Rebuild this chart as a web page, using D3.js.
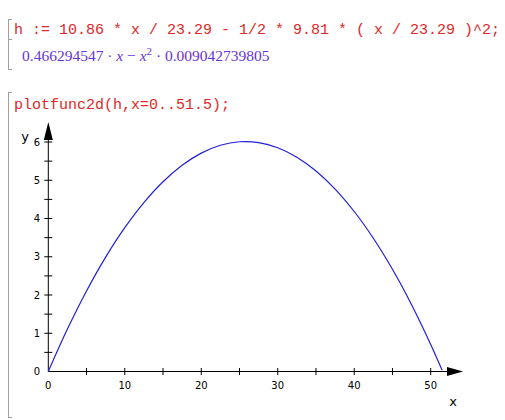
<!DOCTYPE html>
<html><head><meta charset="utf-8">
<script src="https://cdn.jsdelivr.net/npm/d3@7/dist/d3.min.js"></script>
<style>body{margin:0;background:#fff;}svg{display:block;}</style>
</head><body>
<script>
const inputLine1 = "h := 10.86 * x / 23.29 - 1/2 * 9.81 * ( x / 23.29 )^2;";
const inputLine2 = "plotfunc2d(h,x=0..51.5);";
const xs = [0,2.5,5,7.5,10,12.5,15,17.5,20,22.5,25,27.5,30,32.5,35,37.5,40,42.5,45,47.5,50,51.5];
const hs = [0,1.109,2.105,2.989,3.759,4.416,4.960,5.391,5.709,5.914,6.006,5.985,5.850,5.603,5.243,4.770,4.183,3.484,2.672,1.746,0.708,0.030];
const xTicks = [0,10,20,30,40,50];
const xMinor = [5,15,25,35,45];
const yTicks = [0,1,2,3,4,5,6];
const yMinor = [0.5,1.5,2.5,3.5,4.5,5.5];

const W=505,H=420;
const svg=d3.select("body").append("svg").attr("width",W).attr("height",H);
const gray="#a0a0a0", red="#e02828", purple="#6633dd", blue="#2020dd";

function bracket(y0,y1,mids){
  svg.append("line").attr("x1",8.5).attr("x2",8.5).attr("y1",y0).attr("y2",y1).attr("stroke",gray);
  [y0+0.5,y1-0.5].concat(mids).forEach(y=>svg.append("line").attr("x1",8).attr("x2",12).attr("y1",y).attr("y2",y).attr("stroke",gray));
}
bracket(19,70,[39.5]);
bracket(92,418,[]);

svg.append("text").attr("x",14).attr("y",34).attr("fill",red)
  .style("font-family","'Liberation Mono','Courier New',monospace").style("font-size","15px")
  .attr("xml:space","preserve").text(inputLine1);
svg.append("text").attr("x",14).attr("y",109).attr("fill",red)
  .style("font-family","'Liberation Mono','Courier New',monospace").style("font-size","15px")
  .text(inputLine2);

const out=svg.append("text").attr("x",22).attr("y",61).attr("fill",purple)
  .style("font-family","'Liberation Serif','Times New Roman',serif").style("font-size","15.5px");
out.append("tspan").text("0.466294547");
out.append("tspan").text(" · ");
out.append("tspan").style("font-style","italic").text("x");
out.append("tspan").text(" − ");
out.append("tspan").style("font-style","italic").text("x");
out.append("tspan").attr("dy",-6).style("font-size","11px").text("2");
out.append("tspan").attr("dy",6).text(" · 0.009042739805");

const x=d3.scaleLinear().domain([0,50]).range([48.3,430.7]);
const y=d3.scaleLinear().domain([0,6]).range([371.5,142]);

const axFont="'DejaVu Sans',Verdana,sans-serif";
svg.append("line").attr("x1",x(0)).attr("x2",448).attr("y1",y(0)).attr("y2",y(0)).attr("stroke","#000");
svg.append("path").attr("d",`M447,${y(0)-4.5}L463,${y(0)}L447,${y(0)+4.5}Z`).attr("fill","#000");
xTicks.concat(xMinor).forEach(v=>{ if(v===0) return;
  svg.append("line").attr("x1",x(v)).attr("x2",x(v)).attr("y1",y(0)-3.5).attr("y2",y(0)+3.5).attr("stroke","#000");});
xTicks.forEach(v=>svg.append("text").attr("x",x(v)).attr("y",389).attr("text-anchor","middle")
  .style("font-family",axFont).style("font-size","10px").text(v));
svg.append("text").attr("x",453).attr("y",406).attr("text-anchor","middle").style("font-family",axFont).style("font-size","13px").text("x");

svg.append("line").attr("x1",x(0)).attr("x2",x(0)).attr("y1",y(0)).attr("y2",138).attr("stroke","#000");
svg.append("path").attr("d",`M${x(0)-4.5},140L${x(0)},122L${x(0)+4.5},140Z`).attr("fill","#000");
yTicks.concat(yMinor).forEach(v=>{ if(v===0) return;
  svg.append("line").attr("y1",y(v)).attr("y2",y(v)).attr("x1",x(0)-4).attr("x2",x(0)+4).attr("stroke","#000");});
yTicks.forEach(v=>svg.append("text").attr("x",40).attr("y",y(v)+3.5).attr("text-anchor","end")
  .style("font-family",axFont).style("font-size","10px").text(v));
svg.append("text").attr("x",25).attr("y",141).attr("text-anchor","middle").style("font-family",axFont).style("font-size","13px").text("y");

const line=d3.line().x((d,i)=>x(xs[i])).y(d=>y(d)).curve(d3.curveCatmullRom);
svg.append("path").attr("d",line(hs)).attr("fill","none").attr("stroke",blue).attr("stroke-width",1.2);
</script>
</body></html>
